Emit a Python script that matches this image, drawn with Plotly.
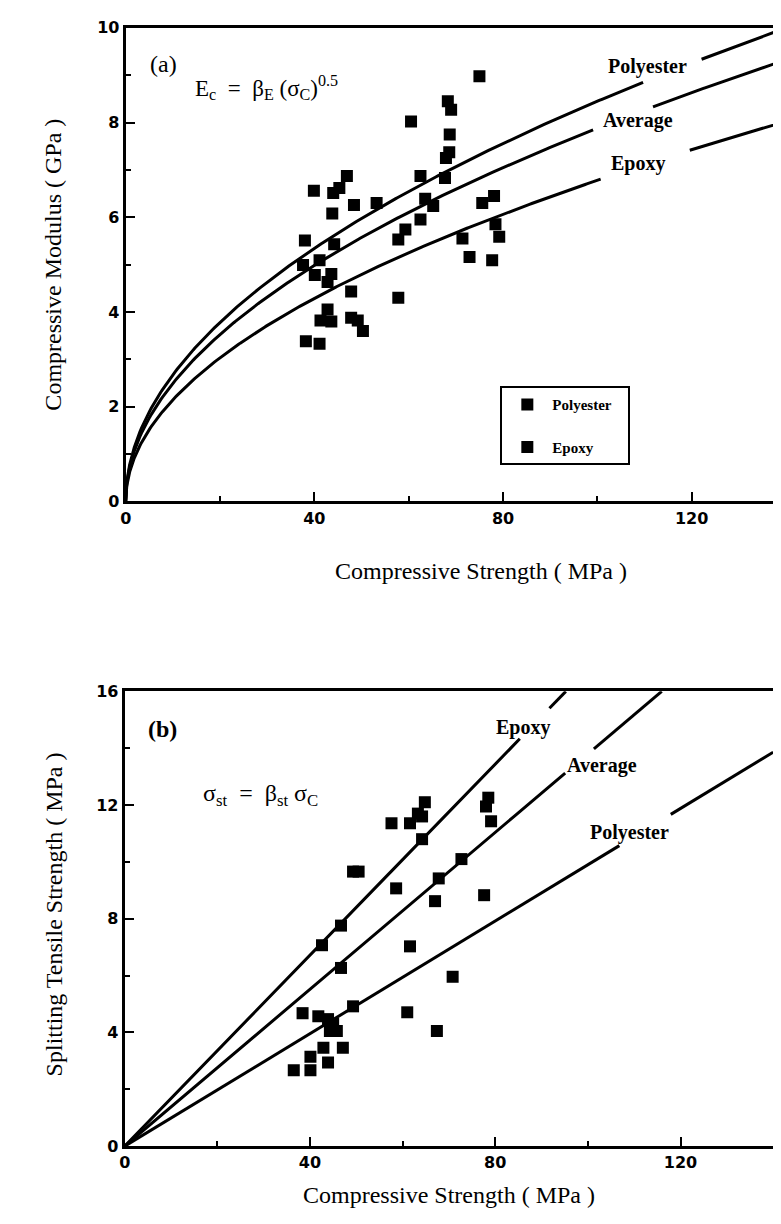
import numpy as np
import plotly.graph_objects as go

# ---------------- Panel (a): compressive modulus vs compressive strength
poly_a_sigma = [39.9, 44.0, 45.3, 46.9, 43.8, 48.4, 53.2, 38.0, 44.2, 60.5, 68.3, 69.0,
                68.7, 68.6, 67.9, 67.7, 62.5, 63.5, 37.6, 41.1, 75.0]
poly_a_E = [6.56, 6.51, 6.62, 6.87, 6.08, 6.26, 6.30, 5.51, 5.43, 8.02, 8.45, 8.27,
            7.75, 7.37, 7.25, 6.83, 6.87, 6.39, 4.99, 5.09, 8.98]
epoxy_a_sigma = [65.2, 62.5, 59.3, 57.8, 75.6, 78.1, 78.4, 79.2, 71.4, 72.9, 77.7, 57.8,
                 47.8, 42.8, 40.1, 43.6, 42.8, 38.2, 41.1, 41.3, 43.6, 47.8, 49.2, 50.3]
epoxy_a_E = [6.24, 5.95, 5.74, 5.53, 6.30, 6.45, 5.85, 5.59, 5.55, 5.16, 5.09, 4.30,
             4.43, 4.05, 4.78, 4.80, 4.63, 3.38, 3.33, 3.82, 3.80, 3.88, 3.82, 3.60]

curve_names = ["Polyester", "Average", "Epoxy"]
beta_E = [0.845, 0.788, 0.678]
gaps_a = [(109.7, 122.1), (99.1, 111.8), (100.7, 119.6)]

# ---------------- Panel (b): splitting tensile strength vs compressive strength
epoxy_b_sigma = [49.3, 50.5, 58.6, 67.8, 72.7, 46.7, 42.6, 57.6, 61.6, 63.3, 64.8, 64.2,
                 64.2, 78.5, 78.0, 79.1]
epoxy_b_st = [9.66, 9.66, 9.07, 9.42, 10.1, 7.76, 7.07, 11.36, 11.36, 11.7, 12.1, 11.6,
              10.8, 12.26, 11.95, 11.43]
poly_b_sigma = [67.0, 77.6, 46.7, 61.6, 70.8, 49.3, 38.4, 41.8, 43.9, 44.3, 45.8, 45.0,
                61.0, 67.4, 42.9, 47.1, 40.1, 43.9, 36.5, 40.1]
poly_b_st = [8.62, 8.83, 6.27, 7.03, 5.96, 4.92, 4.68, 4.57, 4.47, 4.05, 4.05, 4.3,
             4.71, 4.05, 3.46, 3.46, 3.15, 2.94, 2.67, 2.67]

names_b = ["Polyester", "Average", "Epoxy"]
beta_st = [0.099, 0.138, 0.168]
gaps_b = [(106.8, 117.9), (95.1, 101.3), (85.3, 91.7)]

# tick labels
x_ticks = [0, 40, 80, 120]
ya_ticks = [0, 2, 4, 6, 8, 10]
yb_ticks = [0, 4, 8, 12, 16]

W, H = 781, 1224
def px(x): return x / W
def py(y): return 1 - y / H

SERIF = "Liberation Serif"
TICKFAMILY = "DejaVu Sans"

fig = go.Figure()

def gapped(xs, ys, gap):
    xs = np.asarray(xs, float); ys = np.asarray(ys, float).copy()
    ys[(xs > gap[0]) & (xs < gap[1])] = np.nan
    return xs, ys

for name, b, g in zip(curve_names, beta_E, gaps_a):
    xs = np.unique(np.concatenate([np.linspace(0, 3, 120), np.linspace(3, 140, 400), list(g)]))
    ys = b * np.sqrt(xs)
    xs, ys = gapped(xs, ys, g)
    fig.add_trace(go.Scatter(x=xs, y=ys, mode="lines", line=dict(color="black", width=3),
                             showlegend=False, connectgaps=False, xaxis="x", yaxis="y", hoverinfo="skip"))

fig.add_trace(go.Scatter(x=poly_a_sigma, y=poly_a_E, mode="markers",
                         name="Polyester&nbsp;&nbsp;&nbsp;",
                         marker=dict(symbol="square", size=12, color="black"),
                         legendgroup="p", xaxis="x", yaxis="y"))
fig.add_trace(go.Scatter(x=epoxy_a_sigma, y=epoxy_a_E, mode="markers", name="Epoxy",
                         marker=dict(symbol="square", size=12, color="black"),
                         legendgroup="e", xaxis="x", yaxis="y"))

for name, b, g in zip(names_b, beta_st, gaps_b):
    xmax = min(140, 16 / b)
    xs = np.unique(np.concatenate([np.linspace(0, xmax, 300), list(g)]))
    ys = b * xs
    xs, ys = gapped(xs, ys, g)
    fig.add_trace(go.Scatter(x=xs, y=ys, mode="lines", line=dict(color="black", width=3),
                             showlegend=False, connectgaps=False, xaxis="x2", yaxis="y2", hoverinfo="skip"))

fig.add_trace(go.Scatter(x=epoxy_b_sigma, y=epoxy_b_st, mode="markers", showlegend=False,
                         marker=dict(symbol="square", size=12, color="black"), xaxis="x2", yaxis="y2"))
fig.add_trace(go.Scatter(x=poly_b_sigma, y=poly_b_st, mode="markers", showlegend=False,
                         marker=dict(symbol="square", size=12, color="black"), xaxis="x2", yaxis="y2"))

tickfont = dict(family=TICKFAMILY, size=16, color="black", weight="bold")
def bold(vals): return ["<b>%g</b>" % v for v in vals]
def minor(vals): return dict(tickvals=vals, ticks="inside", ticklen=5, tickwidth=2, tickcolor="black")
def axis_common(**kw):
    d = dict(showline=True, linewidth=3, linecolor="black", mirror=True, ticks="inside",
             ticklen=9, tickwidth=2, tickcolor="black", showgrid=False, zeroline=False,
             tickfont=tickfont, fixedrange=True, tickmode="array")
    d.update(kw)
    return d

fig.update_layout(
    width=W, height=H, margin=dict(l=0, r=0, t=0, b=0),
    paper_bgcolor="white", plot_bgcolor="white",
    xaxis=axis_common(domain=[px(113), 1.0], range=[0, 140], tickvals=x_ticks, ticktext=bold(x_ticks),
                      minor=minor([20, 60, 100]), anchor="y"),
    yaxis=axis_common(domain=[py(492), py(11)], range=[0, 10], tickvals=ya_ticks, ticktext=bold(ya_ticks),
                      minor=minor([1, 3, 5, 7, 9]), anchor="x"),
    xaxis2=axis_common(domain=[px(112), px(768)], range=[0, 140], tickvals=x_ticks, ticktext=bold(x_ticks),
                       minor=minor([20, 60, 100]), anchor="y2"),
    yaxis2=axis_common(domain=[py(1147), py(685)], range=[0, 16], tickvals=yb_ticks, ticktext=bold(yb_ticks),
                       minor=minor([2, 6, 10, 14]), anchor="x2"),
    legend=dict(x=px(492), y=py(375), xanchor="left", yanchor="top",
                bordercolor="black", borderwidth=2, bgcolor="white",
                font=dict(family=SERIF, size=15, color="black", weight="bold"),
                tracegroupgap=20, itemwidth=40),
    showlegend=True,
)

ann = []
def add(text, x, y, size=19, bold=False, xref="paper", yref="paper", xanchor="center", angle=0):
    ann.append(dict(text=text, x=x, y=y, xref=xref, yref=yref, showarrow=False,
                    xanchor=xanchor, yanchor="middle", textangle=angle,
                    font=dict(family=SERIF, size=size, color="black", weight="bold" if bold else "normal")))

add("(a)", px(136), py(48), size=24, xanchor="left")
add("E<sub>c</sub>&nbsp;&nbsp;=&nbsp;&nbsp;β<sub>E</sub> (σ<sub>C</sub>)<sup>0.5</sup>", px(181), py(72), size=23, xanchor="left")
add("(b)", px(134), py(723), size=24, bold=True, xanchor="left")
add("σ<sub>st</sub>&nbsp;&nbsp;=&nbsp;&nbsp;β<sub>st</sub> σ<sub>C</sub>", px(189), py(790), size=24, xanchor="left")

add("Polyester", 110.6, 9.19, size=20, bold=True, xref="x", yref="y")
add("Average", 108.7, 8.04, size=20, bold=True, xref="x", yref="y")
add("Epoxy", 108.7, 7.14, size=20, bold=True, xref="x", yref="y")
add("Epoxy", 85.9, 14.72, size=20, bold=True, xref="x2", yref="y2")
add("Average", 103.0, 13.4, size=20, bold=True, xref="x2", yref="y2")
add("Polyester", 109.0, 11.05, size=20, bold=True, xref="x2", yref="y2")

add("Compressive Strength ( MPa )", px(472), py(563), size=24)
add("Compressive Strength ( MPa )", px(440), py(1197), size=24)
add("Compressive Modulus ( GPa )", px(40), py(252), size=24, angle=-90)
add("Splitting Tensile Strength ( MPa )", px(40), py(912), size=24, angle=-90)

fig.update_layout(annotations=ann)
fig.write_html("out.html")
